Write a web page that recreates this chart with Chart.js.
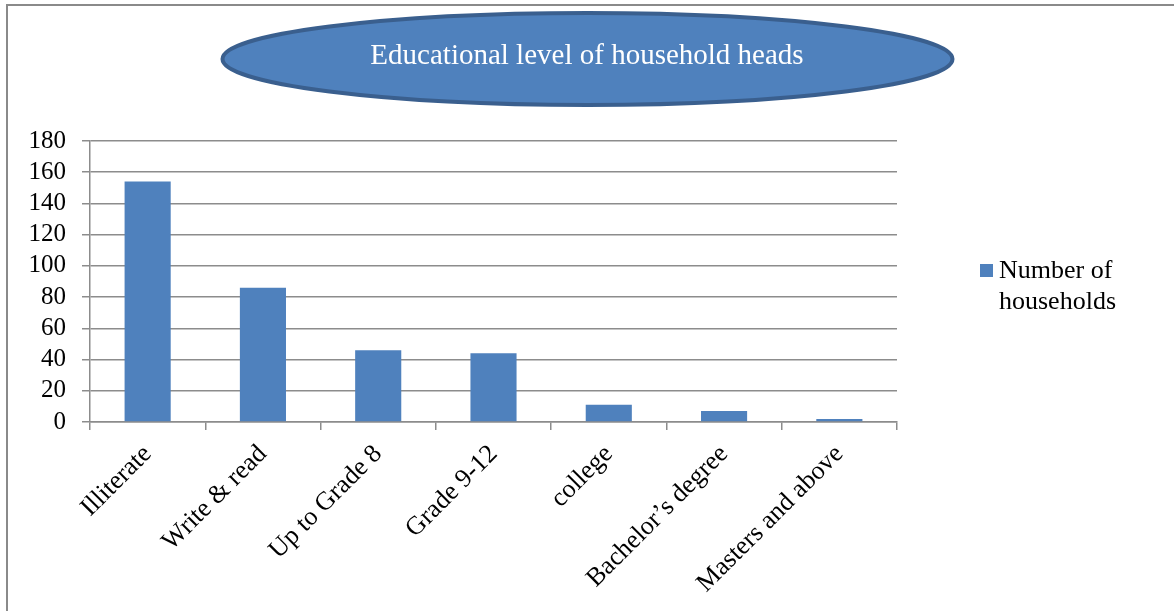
<!DOCTYPE html>
<html>
<head>
<meta charset="utf-8">
<script src="https://cdn.jsdelivr.net/npm/chart.js@4/dist/chart.umd.min.js"></script>
<style>
  html, body { margin: 0; padding: 0; background: #fff; }
  canvas { display: block; }
</style>
</head>
<body>
<canvas id="c" width="1174" height="611"></canvas>
<script>
const chartTitle = 'Educational level of household heads';
const categories = ['Illiterate', 'Write & read', 'Up to Grade 8', 'Grade 9-12', 'college', 'Bachelor\u2019s degree', 'Masters and above'];
const seriesName = 'Number of households';
const households = [154, 86, 46, 44, 11, 7, 2];
const yTicks = [0, 20, 40, 60, 80, 100, 120, 140, 160, 180];

const SERIF = '"Liberation Serif", "Times New Roman", serif';
const BAR = '#4F81BD';
const GRID = '#8c8c8c';

const decor = {
  id: 'decor',
  beforeDraw(chart) {
    const ctx = chart.ctx;
    ctx.save();
    ctx.fillStyle = '#fff';
    ctx.fillRect(0, 0, chart.width, chart.height);
    ctx.strokeStyle = '#8a8a8a';
    ctx.lineWidth = 2;
    ctx.beginPath();
    ctx.moveTo(7, chart.height);
    ctx.lineTo(7, 5);
    ctx.lineTo(chart.width, 5);
    ctx.stroke();
    ctx.restore();
  },
  afterDraw(chart) {
    const ctx = chart.ctx;
    ctx.save();
    ctx.beginPath();
    ctx.ellipse(587.5, 59, 365, 46, 0, 0, Math.PI * 2);
    ctx.fillStyle = BAR;
    ctx.fill();
    ctx.lineWidth = 4;
    ctx.strokeStyle = '#3A5F8E';
    ctx.stroke();
    ctx.fillStyle = '#fff';
    ctx.font = '29px ' + SERIF;
    ctx.textAlign = 'center';
    ctx.textBaseline = 'middle';
    ctx.fillText(chartTitle, 587, 56);

    const ds = chart.data.datasets[0];
    ctx.fillStyle = ds.backgroundColor;
    ctx.fillRect(980, 264, 13, 13);
    ctx.fillStyle = '#000';
    ctx.font = '26px ' + SERIF;
    ctx.textAlign = 'left';
    ctx.textBaseline = 'middle';
    const words = ds.label.split(' ');
    const lines = [];
    let cur = '';
    for (const w of words) {
      const t = cur ? cur + ' ' + w : w;
      if (ctx.measureText(t).width > 160 && cur) { lines.push(cur); cur = w; }
      else cur = t;
    }
    if (cur) lines.push(cur);
    lines.forEach((l, i) => ctx.fillText(l, 999, 271 + i * 31));
    ctx.restore();
  }
};

new Chart(document.getElementById('c'), {
  type: 'bar',
  data: {
    labels: categories,
    datasets: [{
      label: seriesName,
      data: households,
      backgroundColor: BAR,
      borderWidth: 0,
      categoryPercentage: 1,
      barPercentage: 0.4
    }]
  },
  options: {
    responsive: false,
    animation: false,
    devicePixelRatio: 1,
    layout: { padding: { top: 141, right: 277, left: 0, bottom: 0 } },
    plugins: { legend: { display: false }, title: { display: false }, tooltip: { enabled: false } },
    scales: {
      y: {
        min: 0, max: 180,
        afterBuildTicks(s) { s.ticks = yTicks.map(v => ({ value: v })); },
        afterFit(s) { s.width = 90; },
        ticks: { color: '#000', font: { family: SERIF, size: 25 }, padding: 16, autoSkip: false },
        grid: { color: GRID, lineWidth: 1.5, tickLength: 8 },
        border: { color: GRID, width: 1.5 }
      },
      x: {
        afterFit(s) { s.height = 189; },
        ticks: { color: '#000', font: { family: SERIF, size: 26 }, maxRotation: 45, minRotation: 45, padding: 9, autoSkip: false },
        grid: { drawOnChartArea: false, color: GRID, lineWidth: 1.5, tickLength: 8, offset: true },
        border: { color: GRID, width: 1.5 }
      }
    }
  },
  plugins: [decor]
});
</script>
</body>
</html>
